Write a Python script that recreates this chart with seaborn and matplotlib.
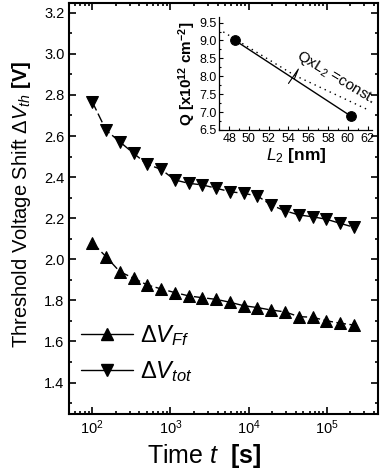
import numpy as np
import pandas as pd
import matplotlib
matplotlib.use("Agg")
import matplotlib.pyplot as plt
from matplotlib.lines import Line2D
import seaborn as sns

# ---- data ----
time_s = [100 * 1.5 ** k for k in range(20)]
dv_ff = [2.081, 2.013, 1.940, 1.908, 1.875, 1.856, 1.838, 1.822, 1.813, 1.805,
         1.791, 1.774, 1.765, 1.753, 1.744, 1.721, 1.718, 1.701, 1.689, 1.680]
dv_tot = [2.767, 2.629, 2.572, 2.516, 2.462, 2.438, 2.386, 2.370, 2.362, 2.346,
          2.329, 2.321, 2.308, 2.264, 2.236, 2.216, 2.207, 2.195, 2.175, 2.156]
series_labels = [r"$\mathit{\Delta V}_{\mathit{Ff}}$", r"$\mathit{\Delta V}_{\mathit{tot}}$"]

inset_L2 = [48.6, 60.3]
inset_Q = [9.0, 6.89]
const_L2 = [47.4, 54.6, 62.0]
const_Q = [9.24, 8.03, 7.07]

sns.set_theme(style="ticks")
plt.rcParams['font.family'] = ['Liberation Sans', 'DejaVu Sans']
plt.rcParams['mathtext.fontset'] = 'custom'
plt.rcParams['mathtext.rm'] = 'Liberation Sans'
plt.rcParams['mathtext.it'] = 'Liberation Sans:italic'
plt.rcParams['mathtext.bf'] = 'Liberation Sans:bold'
plt.rcParams['mathtext.sf'] = 'Liberation Sans'
for k in ['text.color', 'axes.labelcolor', 'xtick.color', 'ytick.color', 'axes.edgecolor']:
    plt.rcParams[k] = 'black'

fig = plt.figure(figsize=(3.81, 4.71), dpi=100)
ax = fig.add_axes([0.182, 0.121, 0.810, 0.872])

df = pd.DataFrame({"t": time_s, "ff": dv_ff, "tot": dv_tot})
dash = (0, (7, 2.5))
sns.lineplot(data=df, x="t", y="ff", ax=ax, color="black", marker="^",
             markersize=8, linestyle=dash, linewidth=1, markeredgecolor="black")
sns.lineplot(data=df, x="t", y="tot", ax=ax, color="black", marker="v",
             markersize=8, linestyle=dash, linewidth=1, markeredgecolor="black")

ax.set_xscale("log")
ax.set_xlim(51, 4.5e5)
ax.set_ylim(1.247, 3.246)
ax.set_yticks(np.arange(1.4, 3.21, 0.2))
ax.set_yticks(np.arange(1.3, 3.25, 0.1), minor=True)
ax.yaxis.set_major_formatter(matplotlib.ticker.FormatStrFormatter("%.1f"))
ax.tick_params(which="both", direction="in", top=True, right=True, width=1.2,
               labelsize=10.5)
ax.tick_params(which="major", length=5)
ax.tick_params(which="minor", length=2.5)
for s in ax.spines.values():
    s.set_linewidth(1.5)

ax.set_xlabel(r"Time $\mathit{t}$  $\mathbf{[s]}$", fontsize=18, labelpad=0)
ax.xaxis.set_label_coords(0.437, -0.068)
ax.set_ylabel(r"Threshold Voltage Shift $\mathit{\Delta V}_{\mathit{th}}$ $\mathbf{[V]}$",
              fontsize=14.5, labelpad=5)
ax.yaxis.set_label_coords(-0.118, 0.51)

handles = [Line2D([], [], color="black", marker="^", markersize=8, linewidth=1),
           Line2D([], [], color="black", marker="v", markersize=8, linewidth=1)]
ax.legend(handles, series_labels, loc="lower left", bbox_to_anchor=(0.0, 0.045),
          frameon=False, fontsize=17, handlelength=2.2, handletextpad=0.3,
          labelspacing=0.45, borderaxespad=0.1)

# ---- inset ----
ins = fig.add_axes([0.5756, 0.724, 0.402, 0.2395])
sns.lineplot(x=const_L2, y=const_Q, ax=ins, color="black", linestyle=(0, (1, 3)),
             linewidth=1)
sns.lineplot(x=inset_L2, y=inset_Q, ax=ins, color="black", linewidth=1,
             marker="o", markersize=7, markeredgecolor="black")
ins.plot([54.0, 55.0, 54.6], [7.8, 8.2, 7.93], color="black", linewidth=0.8)
ins.set_xlim(47, 62.5)
ins.set_ylim(6.5, 9.65)
ins.set_xticks(np.arange(48, 62.1, 2))
ins.set_xticks(np.arange(47, 62.6, 1), minor=True)
ins.set_yticks(np.arange(6.5, 9.51, 0.5))
ins.set_yticks(np.arange(6.5, 9.6, 0.25), minor=True)
ins.spines["top"].set_visible(False)
ins.spines["right"].set_visible(False)
ins.patch.set_alpha(0)
ins.tick_params(which="both", direction="in", labelsize=9, width=0.8, pad=2)
ins.tick_params(which="major", length=3)
ins.tick_params(which="minor", length=1.5)
for s in ins.spines.values():
    s.set_linewidth(0.9)
ins.set_xlabel(r"$\mathit{L}_{2}$ $\mathbf{[nm]}$", fontsize=12.5, labelpad=1)
ins.set_ylabel(r"$\mathbf{Q\ [x10^{12}\ cm^{-2}]}$", fontsize=11, labelpad=1)
ins.text(58.8, 7.95, r"QxL$_2$ =const.", rotation=-31, fontsize=11,
         ha="center", va="center")

fig.savefig("out.png", dpi=100)
